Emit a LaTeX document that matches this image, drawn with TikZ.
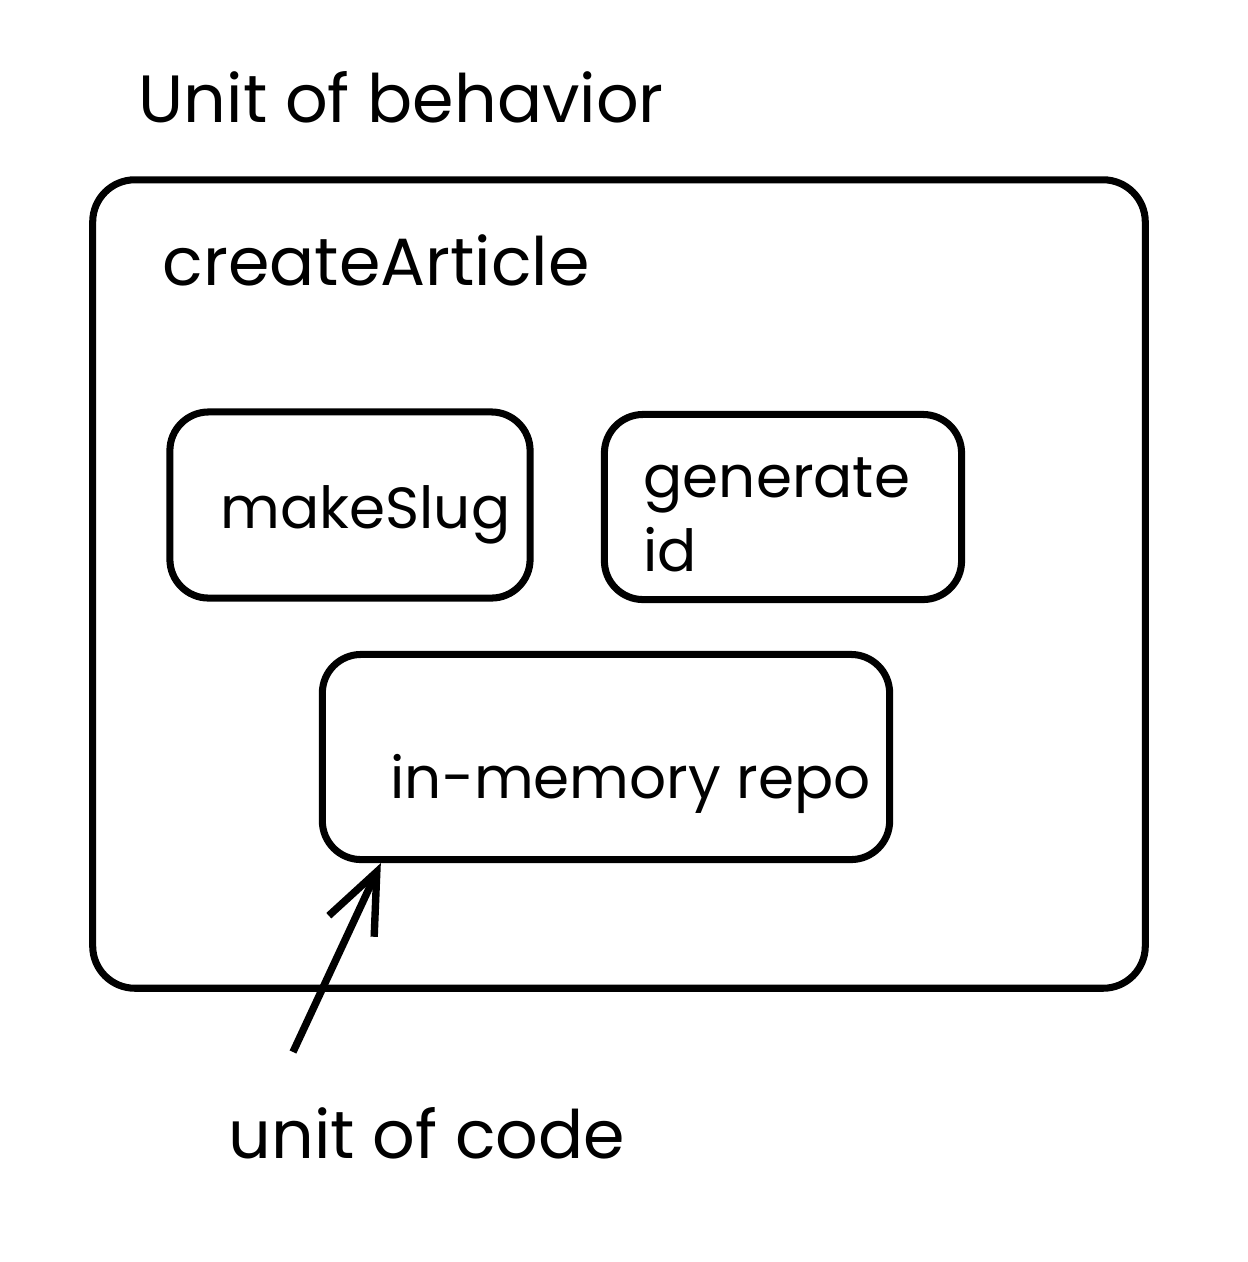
\documentclass[tikz,border=0pt]{standalone}
\usepackage{fontspec}
\setmainfont{Poppins}
\usetikzlibrary{arrows.meta}
\begin{document}
\begin{tikzpicture}[x=0.01cm, y=-0.01cm,
            unit/.style={rectangle, draw, line width=2pt, rounded corners=12pt},
            inner/.style={rectangle, draw, line width=2pt, rounded corners=11pt},
            label/.style={font=\fontsize{19}{22}\selectfont, inner sep=0pt},
            small/.style={font=\fontsize{16.5}{21}\selectfont, inner sep=0pt},
        ]
            \useasboundingbox (0,0) rectangle (1248,1262);

            % Unit of behavior
            \node[label, anchor=base west] (title) at (138, 122) {Unit of behavior};
            \node[unit, minimum width=10.52cm, minimum height=8.08cm] (behavior) at (619, 584) {};
            \node[label, anchor=base west] (create) at (162, 285) {createArticle};

            % Collaborators
            \node[inner, minimum width=3.6cm, minimum height=1.86cm] (slug) at (350, 505) {};
            \node[small, anchor=base west] (slugtext) at (220, 528) {makeSlug};
            \node[inner, minimum width=3.57cm, minimum height=1.85cm] (genid) at (783, 507) {};
            \node[small, anchor=west, align=left] (genidtext) at (643, 515) {generate\\id};
            \node[inner, minimum width=5.67cm, minimum height=2.05cm] (repo) at (606, 757) {};
            \node[small, anchor=base west] (repotext) at (390, 798) {in-memory repo};

            % Unit of code
            \coordinate (tail) at (293, 1052);
            \node[label, anchor=base west] (code) at (228, 1158) {unit of code};
            \draw[-{Straight Barb[length=6mm, width=5mm]}, line width=2.1pt] (tail) -- ([xshift=6.2mm]repo.south west);
        \end{tikzpicture}
\end{document}
